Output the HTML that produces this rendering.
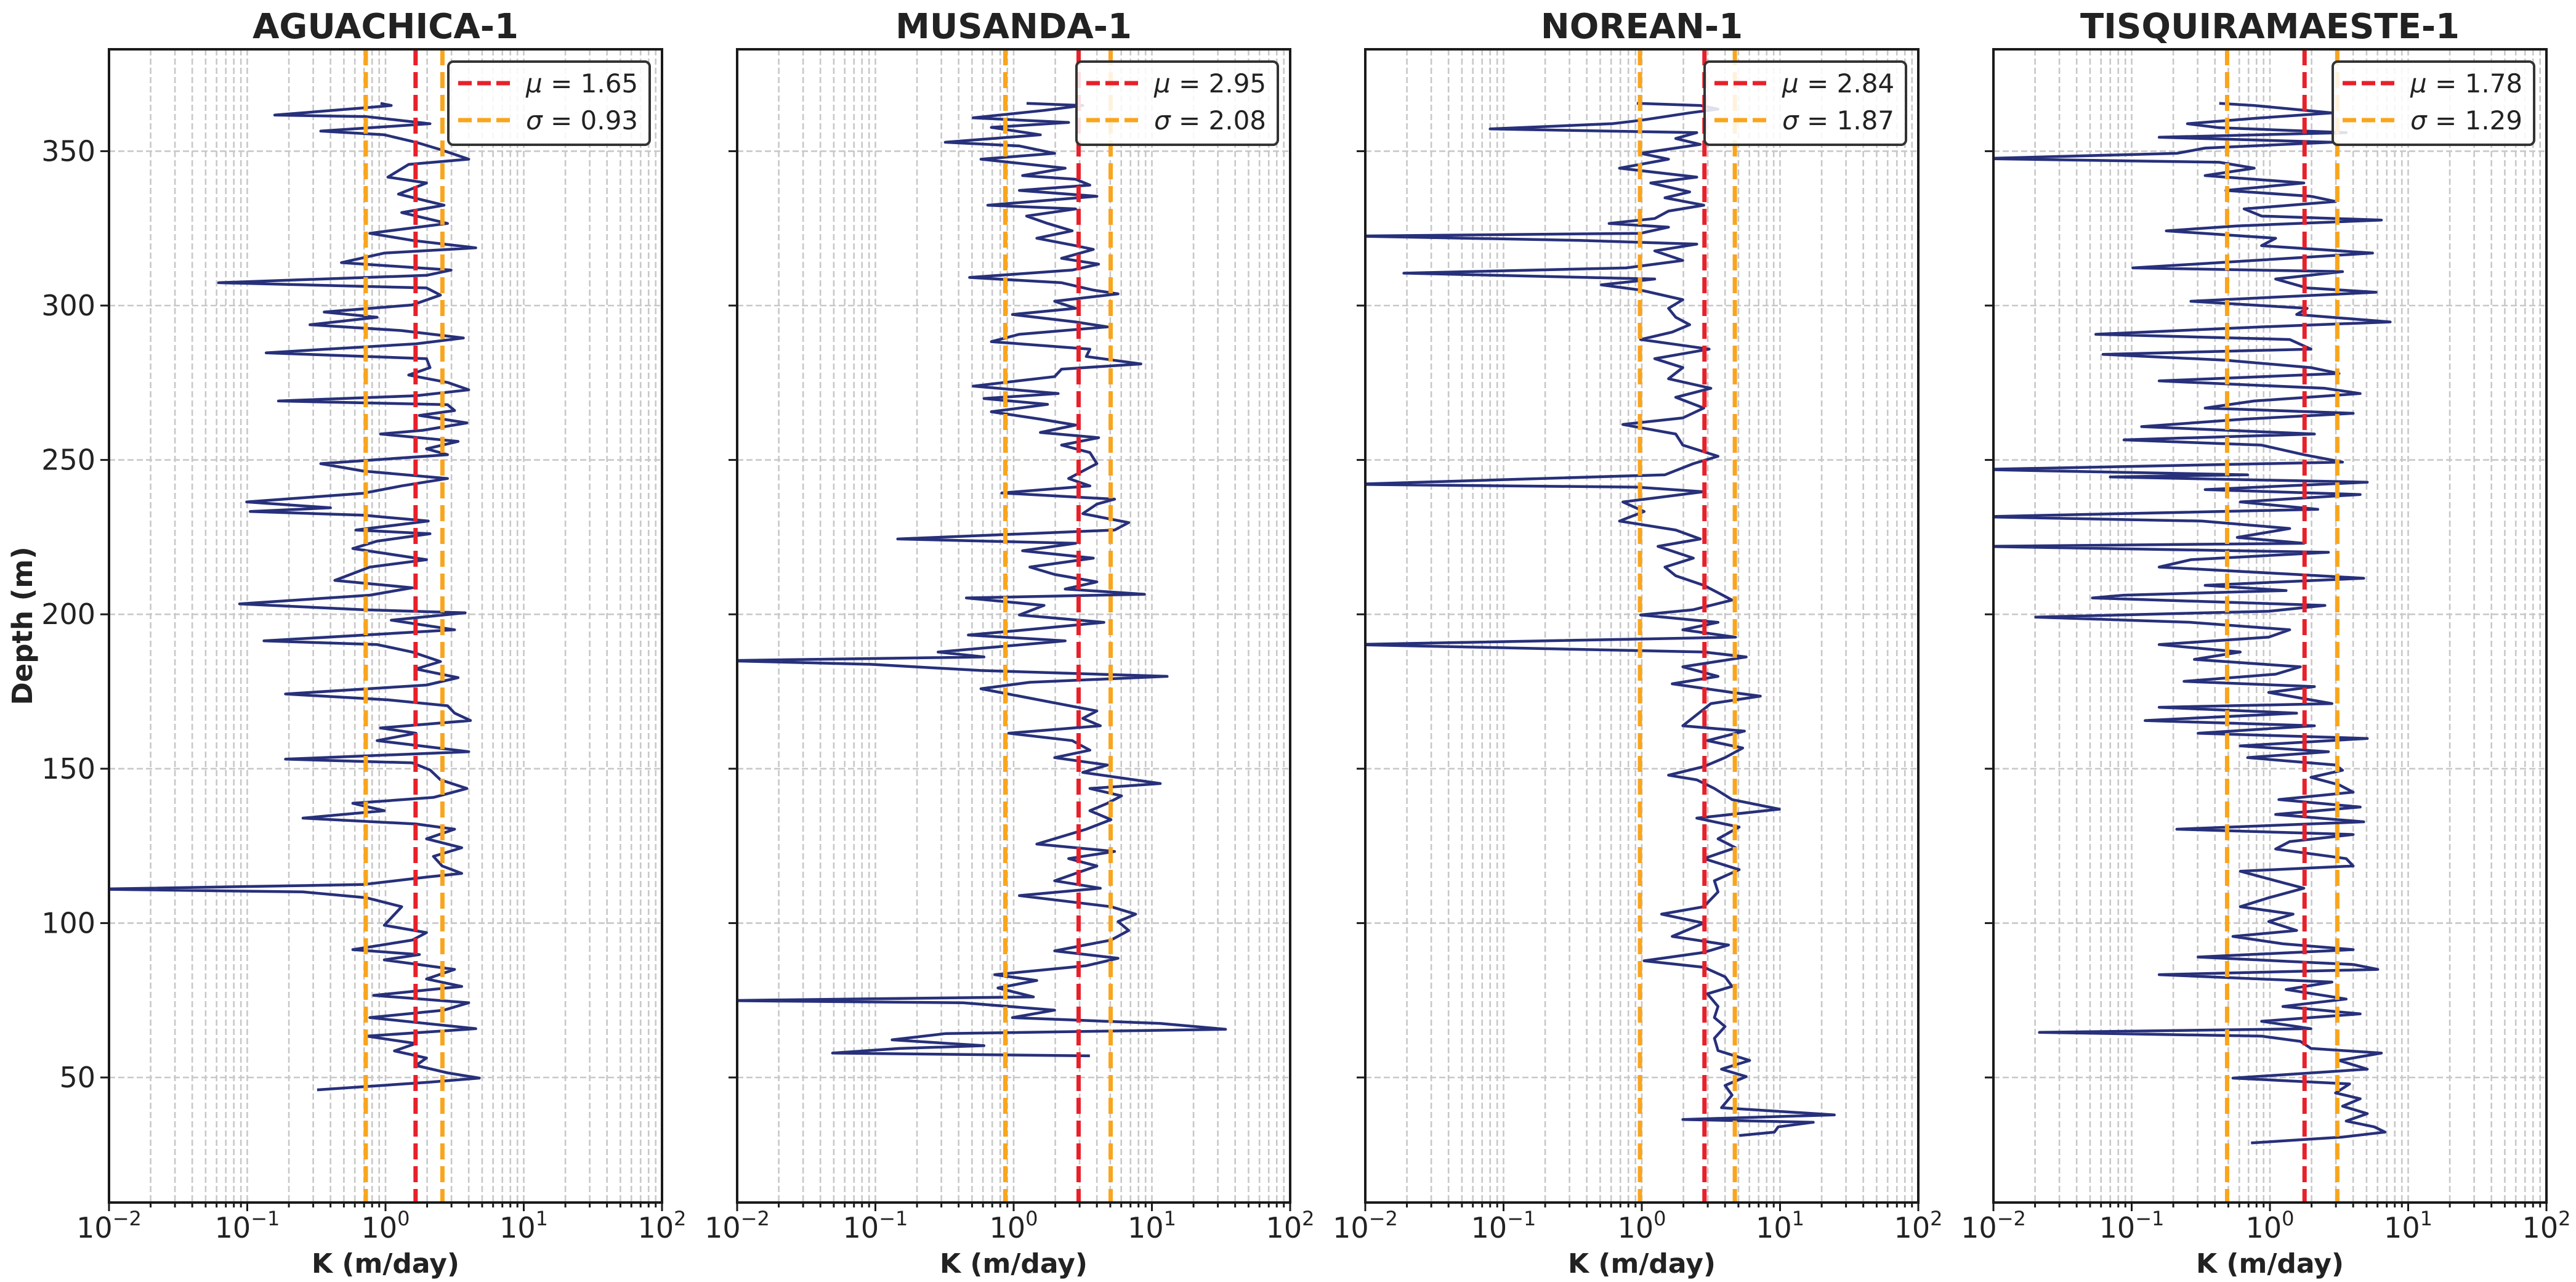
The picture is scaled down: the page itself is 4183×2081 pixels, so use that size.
<!DOCTYPE html>
<html><head><meta charset="utf-8"><style>
html,body{margin:0;padding:0;background:#fff;}
svg{display:block;font-family:"DejaVu Sans","Liberation Sans",sans-serif;}
</style></head><body>
<svg id="fig" xmlns="http://www.w3.org/2000/svg" width="4183" height="2081" viewBox="0 0 4183 2081">
<rect x="0" y="0" width="4183" height="2081" fill="#fff"/>
<text x="40" y="1016" transform="rotate(-90 40 1016)" text-anchor="middle" dominant-baseline="middle" font-weight="bold" font-size="45" fill="#222">Depth (m)</text>
</svg>
<script>
// ---- data ----
const wellNames = ["AGUACHICA-1","MUSANDA-1","NOREAN-1","TISQUIRAMAESTE-1"];
const meanValues = [1.65, 2.95, 2.84, 1.78];
const sdValues = [0.93, 2.08, 1.87, 1.29];
const yTicks = [50,100,150,200,250,300,350];
const xDecades = [-2,-1,0,1,2];

const depthAguachica = [365.5,364.8,364.1,361.7,361.2,358.9,356.5,355.3,352.9,350.5,347.4,345.7,341.6,339.7,336.1,332.5,330.1,326.6,323.4,321.1,318.7,317.0,313.9,311.5,309.8,307.4,305.7,303.4,300.2,297.9,296.2,293.8,291.9,289.5,287.6,284.7,282.8,279.9,277.5,275.1,272.7,270.8,269.1,267.9,266.0,264.4,262.0,259.6,258.4,256.0,253.6,251.7,248.8,246.4,244.0,241.6,239.2,236.4,234.5,233.3,232.1,230.2,227.3,226.1,223.7,221.3,217.7,215.3,211.0,208.6,206.2,203.4,201.5,200.5,198.1,195.0,191.4,190.2,187.8,184.7,182.3,179.5,177.1,174.2,172.3,170.4,168.0,165.6,163.2,161.5,159.1,155.5,153.1,151.9,149.6,146.4,143.6,140.7,138.8,136.4,134.0,132.1,130.4,127.3,124.4,121.6,118.5,116.1,114.9,112.5,111.0,110.1,108.2,105.3,101.7,99.3,96.9,94.5,91.4,89.8,88.1,85.0,81.9,79.5,76.6,74.2,71.8,69.4,65.8,63.4,61.0,58.6,56.3,53.9,51.5,49.8,48.4,46.0];
const kAguachica = [0.92,1.10,0.73,0.158,0.73,2.10,0.34,0.98,1.66,2.50,4.0,1.47,1.04,1.98,1.24,2.65,1.31,2.81,0.77,1.56,4.5,0.98,0.48,2.98,1.98,0.062,1.98,2.50,1.56,0.36,0.87,0.284,1.31,3.66,1.66,0.137,1.98,2.10,1.47,2.81,4.0,1.66,0.168,2.81,3.16,1.76,3.88,1.86,0.92,3.35,1.98,2.81,0.34,0.69,2.81,1.31,0.69,0.099,0.40,0.105,0.69,2.04,0.61,2.10,0.87,0.58,1.98,0.77,0.43,1.56,0.77,0.088,0.69,3.77,1.10,3.16,0.132,0.87,1.56,2.50,1.66,3.35,1.98,0.189,1.04,2.81,3.16,4.12,0.92,1.66,0.87,4.0,0.189,1.56,2.10,2.50,3.88,2.22,0.58,0.98,0.253,1.66,3.16,1.98,3.56,2.22,2.57,3.56,1.98,0.69,0.008,0.253,0.73,1.31,1.10,0.98,1.98,1.56,0.58,1.76,0.98,3.16,1.98,3.56,0.82,4.0,2.65,0.77,4.5,0.73,1.66,1.16,1.98,1.66,2.81,4.77,1.98,0.32];

const depthMusanda = [365.5,364.8,363.2,360.8,359.3,357.7,355.3,352.9,351.7,349.3,347.4,344.5,342.1,340.9,339.0,337.3,335.4,332.5,331.3,329.0,326.6,324.2,321.8,319.4,318.2,315.3,313.4,311.5,309.1,307.4,305.0,303.8,301.4,299.1,297.1,294.7,293.1,290.7,288.3,285.9,283.5,281.1,279.4,277.0,273.9,271.5,269.9,268.0,265.6,263.2,261.3,258.9,257.2,254.8,252.4,248.8,246.4,244.0,241.6,239.3,237.3,235.7,232.6,229.7,227.3,224.4,223.0,220.6,218.2,215.3,212.9,210.5,208.2,206.5,205.3,202.9,199.8,197.4,195.0,193.3,191.4,187.8,186.2,185.0,183.8,181.8,179.9,178.0,175.9,173.5,171.1,168.7,166.3,163.9,161.5,159.1,156.0,153.6,151.2,148.8,145.2,143.6,141.2,138.8,136.4,133.5,130.4,125.6,123.2,120.9,118.5,116.1,113.7,111.3,108.9,105.3,102.9,100.5,97.6,94.5,91.0,88.6,86.2,83.3,81.4,79.0,76.1,74.9,74.2,71.8,69.4,67.5,65.6,64.2,62.2,60.3,59.4,57.9,57.0];
const kMusanda = [1.24,3.16,1.66,0.51,2.50,0.69,1.56,0.32,1.10,1.98,0.58,2.36,1.16,2.81,3.56,1.10,4.0,0.65,2.81,1.24,1.76,2.65,1.47,2.81,3.77,2.22,4.12,2.65,0.48,2.22,3.77,5.69,1.98,2.81,0.98,2.81,4.77,1.10,0.69,3.56,3.35,8.33,2.22,1.98,0.51,2.10,0.61,1.76,0.69,1.56,2.81,1.56,4.12,2.22,3.56,4.0,3.16,2.50,3.56,0.82,5.37,4.0,3.16,6.79,5.37,0.145,2.81,1.16,3.77,1.31,1.98,4.0,2.36,8.84,0.455,1.66,1.10,4.5,1.24,0.47,2.36,0.284,0.61,0.008,0.093,0.58,12.9,1.31,0.58,1.10,2.10,4.0,3.16,4.24,0.92,2.65,3.56,1.98,4.77,3.16,11.5,3.56,6.03,4.77,3.56,5.06,3.35,1.47,5.37,2.50,4.0,2.81,1.98,4.24,1.10,5.06,7.63,5.69,6.79,5.06,1.98,5.69,3.35,0.73,1.47,0.77,1.39,0.008,0.43,1.98,0.98,11.5,34.1,0.32,0.132,0.61,0.149,0.049,3.56];

const depthNorean = [365.5,364.8,363.6,362.4,360.0,358.9,357.2,356.0,354.1,352.2,349.3,347.4,344.5,341.6,339.7,336.8,334.9,332.5,330.6,328.2,326.6,325.4,323.4,322.5,321.1,319.9,317.7,314.6,312.2,310.5,308.6,306.7,305.0,301.9,299.1,296.2,293.8,291.4,289.0,285.9,282.8,279.9,276.3,273.2,270.3,266.8,263.6,261.5,258.4,254.8,251.2,248.8,245.2,242.1,241.2,239.7,236.4,233.3,230.2,227.3,224.4,222.0,218.2,215.3,212.5,209.4,207.0,204.6,201.5,199.8,197.4,195.0,192.6,190.2,187.8,186.2,183.0,179.9,177.5,174.7,173.5,171.1,167.5,163.9,162.2,159.1,156.7,153.6,150.7,147.9,146.4,143.6,140.0,136.9,134.0,131.1,127.3,124.4,120.9,117.3,113.7,110.1,105.3,102.9,100.0,95.7,92.9,90.5,87.8,85.7,82.6,79.5,77.1,73.0,69.4,66.5,62.7,58.7,55.5,52.7,50.3,47.4,44.3,40.2,37.9,36.4,35.5,34.0,32.3,31.2];
const kNorean = [0.92,2.65,3.56,2.22,0.98,0.61,0.080,2.50,1.76,2.65,0.98,1.56,0.69,2.50,1.16,2.22,1.47,2.81,1.56,1.24,0.58,1.56,0.98,0.008,0.36,2.50,1.24,1.98,0.77,0.019,1.24,0.51,0.98,1.98,1.56,1.76,2.22,1.66,0.98,3.07,1.24,1.98,1.56,3.16,1.76,2.81,1.98,0.73,1.76,1.98,3.56,2.36,1.47,0.008,0.92,2.81,0.73,1.04,0.69,1.76,2.65,1.31,2.36,1.47,1.76,2.81,3.56,4.5,2.36,0.98,3.56,1.98,4.77,0.008,2.81,5.69,1.98,3.56,1.66,4.5,7.2,3.16,2.50,1.98,5.53,2.98,5.37,4.0,2.81,1.56,2.50,3.35,4.5,9.9,2.50,5.06,3.56,4.77,2.81,5.06,3.35,3.56,2.81,1.39,2.81,1.66,4.24,2.81,1.04,2.81,4.0,4.5,2.98,3.56,3.35,4.0,3.35,3.56,6.03,3.77,5.69,4.0,4.5,3.77,24.7,1.98,17.4,9.7,9.1,5.06];

const depthTisquira = [365.5,364.8,362.4,360.8,358.9,357.6,356.0,354.5,352.9,351.0,349.3,347.6,346.4,344.5,342.1,339.7,337.3,335.4,333.7,331.3,329.0,327.7,325.8,324.2,321.8,319.4,317.0,314.6,312.2,311.0,308.6,305.7,304.3,301.4,299.1,297.1,294.7,293.1,290.7,289.0,285.9,284.2,282.3,279.9,278.0,275.6,273.2,271.5,269.1,266.8,265.1,263.2,260.8,258.4,256.5,254.8,251.7,249.3,246.9,245.2,244.5,242.8,240.4,238.8,236.4,234.0,231.6,230.2,227.8,224.9,223.0,222.0,220.1,217.7,215.3,212.9,211.7,209.4,207.7,206.2,205.3,202.9,201.0,199.1,197.4,195.0,192.6,190.2,187.8,185.4,183.0,180.6,178.3,176.6,174.7,171.1,169.9,168.0,165.6,163.9,161.5,159.8,157.4,155.5,153.6,151.2,149.5,147.2,144.8,142.4,140.0,137.6,135.2,132.8,130.4,128.7,126.4,124.0,120.9,118.5,116.8,113.7,111.3,108.2,105.3,102.9,100.5,97.6,95.7,93.3,91.4,89.0,86.6,85.0,83.3,80.9,78.5,75.4,73.0,70.6,68.2,65.8,64.6,63.4,61.7,59.4,57.9,55.5,52.7,49.8,47.9,45.0,43.1,40.7,38.3,35.9,34.0,32.3,30.7,28.8];
const kTisquira = [0.43,0.77,2.81,0.87,0.253,0.43,3.56,0.158,2.81,0.34,0.212,0.008,0.43,0.77,0.34,1.76,0.48,1.98,2.98,0.65,0.87,6.40,0.58,0.178,1.10,0.87,5.53,0.77,0.102,3.35,1.10,1.86,5.86,0.268,1.86,1.56,7.41,0.87,0.055,1.39,1.98,0.062,0.48,1.98,3.16,0.158,2.50,4.5,0.77,0.34,4.0,0.65,0.118,2.10,0.088,0.87,1.76,3.35,0.008,0.69,0.070,5.06,0.34,4.5,0.61,2.22,0.008,0.32,1.39,0.58,1.76,0.008,2.65,0.268,0.158,1.56,4.77,0.34,1.31,0.088,0.052,2.50,0.98,0.0202,0.268,1.39,0.98,0.158,0.61,0.284,1.66,1.10,0.239,2.10,0.98,2.81,0.158,1.56,0.125,2.10,0.302,5.06,0.61,2.65,0.69,2.98,3.35,1.98,3.16,4.0,1.16,4.5,1.10,4.77,0.212,4.0,1.39,1.10,3.56,4.0,0.61,1.10,1.76,0.98,0.61,1.47,0.98,1.56,0.54,1.24,4.0,0.302,4.0,6.03,0.158,2.81,1.31,3.56,1.24,4.5,0.87,1.98,0.0215,0.87,1.66,1.98,6.40,3.16,5.06,0.54,3.77,2.98,4.5,3.35,5.06,3.56,5.69,6.79,3.35,0.73];

const depthSeries = [depthAguachica, depthMusanda, depthNorean, depthTisquira];
const kSeries = [kAguachica, kMusanda, kNorean, kTisquira];

// ---- layout ----
const NS = "http://www.w3.org/2000/svg";
const svg = document.getElementById("fig");
const panelLefts = [177, 1197, 2217, 3237];
const PW = 898, PT = 80, PB = 1952;
const Y_MAX = 383, Y_MIN = 9.5;
function yScale(d){ return PT + (Y_MAX - d) / (Y_MAX - Y_MIN) * (PB - PT); }
function xScaleFor(x0){ return k => x0 + (Math.log10(k) + 2) / 4 * PW; }
function mk(tag, attrs, parent){
  const e = document.createElementNS(NS, tag);
  for (const a in attrs) e.setAttribute(a, attrs[a]);
  (parent || svg).appendChild(e);
  return e;
}

const defs = mk("defs", {});

wellNames.forEach((name, i) => {
  const x0 = panelLefts[i];
  const xs = xScaleFor(x0);
  const g = mk("g", {});
  
  

  const cp = mk("clipPath", {id: "clip" + i}, defs);
  mk("rect", {x: x0, y: PT, width: PW, height: PB - PT}, cp);

  // grid
  const grid = mk("g", {stroke: "#c8c8c8", "stroke-width": 2.6, "stroke-dasharray": "10 5"}, g);
  
  
  for (let e = -2; e < 2; e++) {
    for (let m = 1; m <= 9; m++) {
      const xv = xs(m * Math.pow(10, e));
      if (m === 1 && e === -2) continue;
      mk("line", {x1: xv, x2: xv, y1: PT, y2: PB}, grid);
    }
  }
  yTicks.forEach(t => { const yv = yScale(t); mk("line", {x1: x0, x2: x0 + PW, y1: yv, y2: yv}, grid); });

  // series
  const pts = depthSeries[i].map((d, j) => xs(kSeries[i][j]).toFixed(1) + "," + yScale(d).toFixed(1)).join(" ");
  const line = mk("polyline", {points: pts, fill: "none", stroke: "#27307a", "stroke-width": 4.5, "stroke-linejoin": "round", "clip-path": "url(#clip" + i + ")"}, g);
  
  

  // mean / sd lines
  const mu = meanValues[i], sd = sdValues[i];
  [[mu - sd, "#f9a51d", "sigma-lower-line"], [mu, "#e8202a", "mean-line"], [mu + sd, "#f9a51d", "sigma-upper-line"]].forEach(([v, c, nm]) => {
    const xv = xs(v);
    const l = mk("line", {x1: xv, x2: xv, y1: PT, y2: PB, stroke: c, "stroke-width": 7, "stroke-dasharray": "26 11"}, g);
    
    
  });

  // spines
  const sp = mk("rect", {x: x0, y: PT, width: PW, height: PB - PT, fill: "none", stroke: "#1a1a1a", "stroke-width": 4}, g);
  
  

  // x ticks
  const tk = mk("g", {stroke: "#1a1a1a", "stroke-width": 3}, g);
  for (let e = -2; e < 2; e++) {
    for (let m = 2; m <= 9; m++) { const xv = xs(m * Math.pow(10, e)); mk("line", {x1: xv, x2: xv, y1: PB, y2: PB + 8}, tk); }
  }
  xDecades.forEach(e => {
    const xv = xs(Math.pow(10, e));
    mk("line", {x1: xv, x2: xv, y1: PB, y2: PB + 14}, tk);
    const t = mk("text", {x: xv, y: 2009, "text-anchor": "middle", "font-size": 46, fill: "#222"}, g);
    
    
    t.appendChild(document.createTextNode("10"));
    const s = mk("tspan", {dy: -20, "font-size": 32}, t);
    s.textContent = (e < 0 ? "\u2212" : "") + Math.abs(e);
  });
  // y ticks
  yTicks.forEach(tv => {
    const yv = yScale(tv);
    mk("line", {x1: x0 - 14, x2: x0, y1: yv, y2: yv}, tk);
    if (i === 0) {
      const t = mk("text", {x: x0 - 22, y: yv + 16, "text-anchor": "end", "font-size": 46, fill: "#222"}, g);
      
      
      t.textContent = tv;
    }
  });

  // title
  const tt = mk("text", {x: x0 + PW / 2, y: 62, "text-anchor": "middle", "font-size": 56, "font-weight": "bold", fill: "#222"}, g);
  
  
  tt.textContent = name;

  // x label
  const xl = mk("text", {x: x0 + PW / 2, y: 2066, "text-anchor": "middle", "font-size": 44, "font-weight": "bold", fill: "#222"}, g);
  
  
  xl.textContent = "K (m/day)";

  // legend
  const lx = x0 + PW - 347, ly = 100;
  const lg = mk("g", {}, g);
  
  
  mk("rect", {x: lx, y: ly, width: 327, height: 135, rx: 8, fill: "#fff", "fill-opacity": 0.85, stroke: "#333", "stroke-width": 4}, lg);
  [[mu, "#e8202a", "\u03bc", 135], [sd, "#f9a51d", "\u03c3", 195]].forEach(([v, c, sym, yy]) => {
    const ent = mk("g", {}, lg);
    
    
    mk("line", {x1: lx + 16, x2: lx + 100, y1: yy, y2: yy, stroke: c, "stroke-width": 7, "stroke-dasharray": "22 9"}, ent);
    const t = mk("text", {x: lx + 126, y: yy + 15, "font-size": 42, fill: "#222"}, ent);
    const s = mk("tspan", {"font-style": "italic"}, t);
    s.textContent = sym;
    t.appendChild(document.createTextNode(" = " + v.toFixed(2)));
  });
});
</script>
</body></html>
